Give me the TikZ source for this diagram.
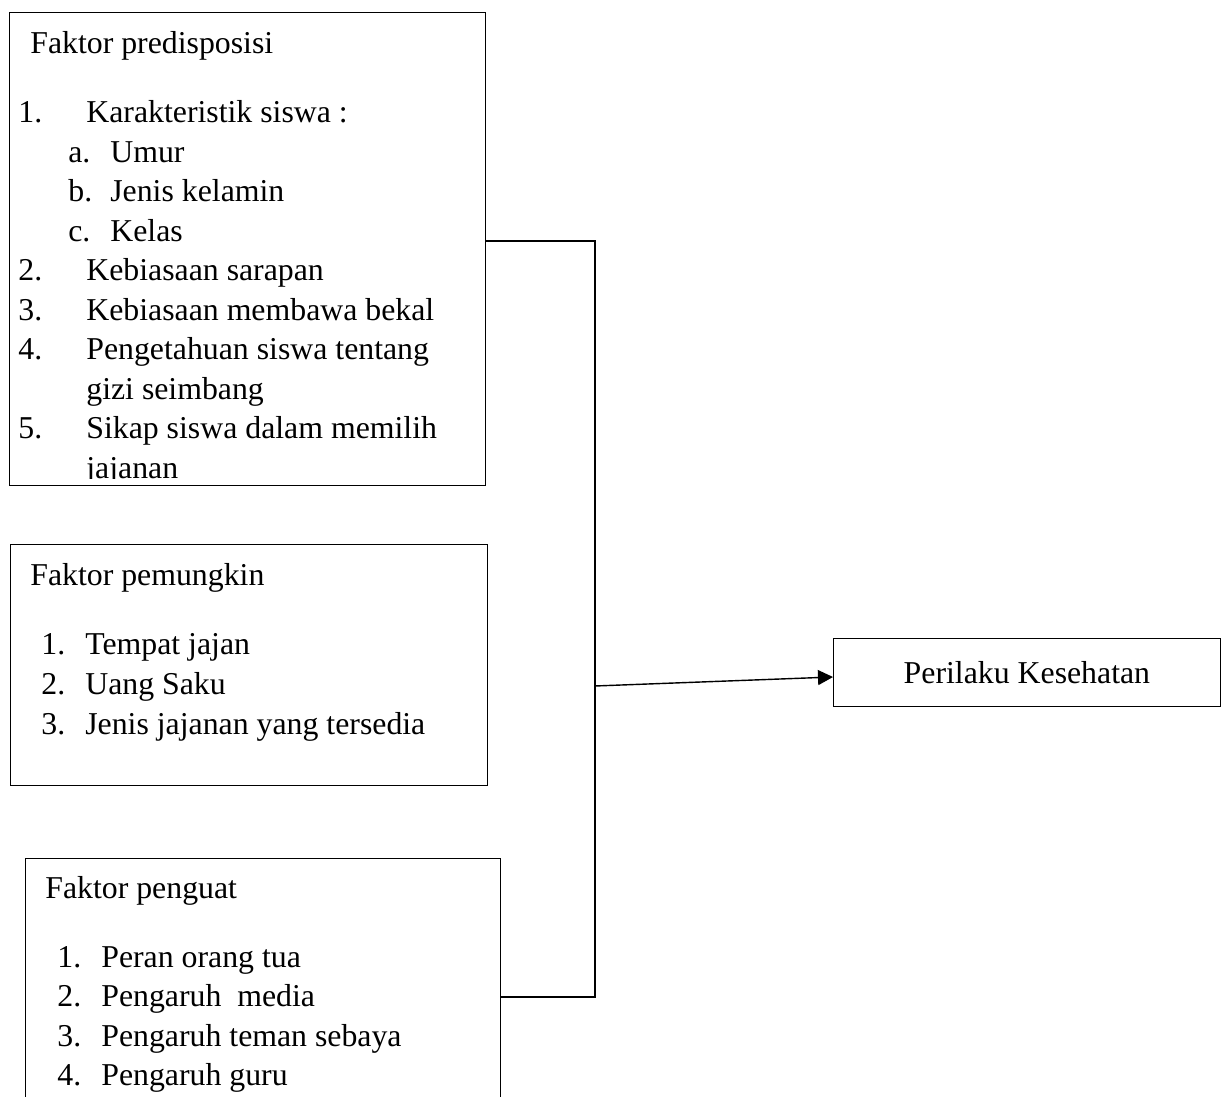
\documentclass[tikz,border=0pt]{standalone}
\usepackage{fontspec}
\setmainfont{Liberation Serif}
\usetikzlibrary{positioning,arrows.meta}
\tikzset{
  box/.style={anchor=north west, inner sep=0pt, line width=0.5pt},
  txt/.style={anchor=base west, inner sep=0pt, font=\fontsize{18.1}{22}\selectfont},
  link/.style={line width=1pt},
}

\begin{document}
\begin{tikzpicture}[x=0.02cm, y=-0.02cm]
\useasboundingbox (0,0) rectangle (1227,1097);

% kotak faktor
\node[box, draw, minimum width=9.52cm, minimum height=9.46cm] (pre) at (9,12) {};
\node[box, draw, minimum width=9.54cm, minimum height=4.82cm] (pem) at (10,544) {};
\node[box, minimum width=9.5cm, minimum height=4.78cm] (pen) at (25,858) {};
\draw[line width=0.5pt] (pen.south west) |- (pen.north east) -- (pen.south east);
\node[box, draw, minimum width=7.74cm, minimum height=1.36cm, font=\fontsize{18.1}{22}\selectfont] (hasil) at (833,638) {Perilaku Kesehatan};

% isi faktor predisposisi
\begin{scope}
\clip (9,12) rectangle (485,479);
\node[txt] (preh) at (30,54) {Faktor predisposisi};
\foreach \n/\t/\y [count=\i] in {1./Karakteristik siswa :/123, 2./Kebiasaan sarapan/281,
    3./Kebiasaan membawa bekal/320.5, 4./Pengetahuan siswa tentang/360, 5./Sikap siswa dalam memilih/439}
  {
  \node[txt] (pren\i) at (18,\y) {\n};
  \node[txt] (pret\i) at (86,\y) {\t};
  }
\foreach \n/\t/\y [count=\i] in {a./Umur/162.5, b./Jenis kelamin/202, c./Kelas/241.5}
  {
  \node[txt] (pres\i) at (68,\y) {\n};
  \node[txt] (prest\i) at (110,\y) {\t};
  }
\node[txt] (prel4) at (86,399.5) {gizi seimbang};
\node[txt] (prel5) at (86,479) {jajanan};
\end{scope}

% isi faktor pemungkin
\node[txt] (pemh) at (30,586) {Faktor pemungkin};
\foreach \t/\y [count=\i] in {Tempat jajan/655, Uang Saku/694, Jenis jajanan yang tersedia/734}
  {
  \node[txt] (pemn\i) at (41,\y) {\i.};
  \node[txt] (pemt\i) at (85,\y) {\t};
  }

% isi faktor penguat
\node[txt] (penh) at (45,898) {Faktor penguat};
\foreach \t/\y [count=\i] in {Peran orang tua/967, Pengaruh~~media/1006, Pengaruh teman sebaya/1046, Pengaruh guru/1085}
  {
  \node[txt] (penn\i) at (57,\y) {\i.};
  \node[txt] (pent\i) at (101,\y) {\t};
  }

% garis penghubung
\coordinate (bar) at (595,686);
\draw[link] (pre.east |- 0,241) -| (595,997) -- (pen.east |- 0,997);
\draw[line width=0.8pt, -{Triangle[length=0.3cm, width=0.3cm]}] (bar) -- (hasil.west |- 0,677);
\end{tikzpicture}
\end{document}
